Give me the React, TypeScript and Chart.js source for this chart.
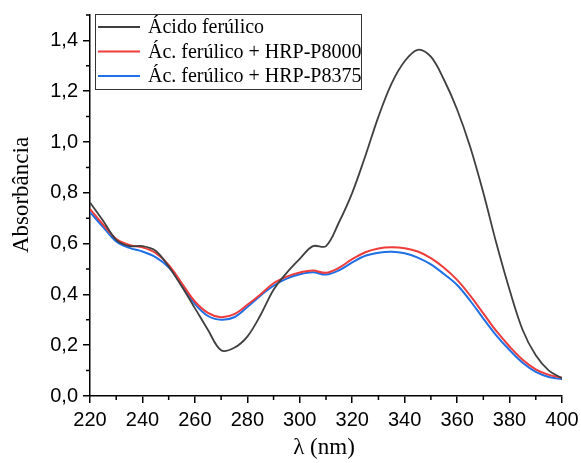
import React, { useEffect, useRef } from 'react';
import { Chart, registerables } from 'chart.js';

Chart.register(...registerables);

const wavelengths = [220, 225, 230, 235, 240, 245, 250, 255, 260, 265, 270, 275, 280, 285, 290, 295, 300, 305, 310, 315, 320, 325, 330, 335, 340, 345, 350, 355, 360, 365, 370, 375, 380, 385, 390, 395, 400];
const acidoFerulico = [0.762, 0.69, 0.615, 0.59, 0.59, 0.572, 0.51, 0.431, 0.346, 0.26, 0.18, 0.19, 0.234, 0.318, 0.418, 0.485, 0.54, 0.59, 0.59, 0.685, 0.80, 0.945, 1.10, 1.23, 1.318, 1.363, 1.336, 1.245, 1.128, 0.98, 0.80, 0.60, 0.418, 0.26, 0.16, 0.10, 0.07];
const hrpP8000 = [0.736, 0.675, 0.618, 0.595, 0.585, 0.563, 0.516, 0.444, 0.372, 0.327, 0.31, 0.322, 0.359, 0.40, 0.444, 0.47, 0.486, 0.494, 0.485, 0.505, 0.539, 0.566, 0.581, 0.586, 0.582, 0.569, 0.543, 0.505, 0.457, 0.395, 0.325, 0.255, 0.195, 0.143, 0.105, 0.083, 0.072];
const hrpP8375 = [0.724, 0.665, 0.608, 0.583, 0.569, 0.547, 0.507, 0.438, 0.363, 0.315, 0.30, 0.31, 0.35, 0.395, 0.434, 0.462, 0.479, 0.487, 0.478, 0.495, 0.526, 0.552, 0.564, 0.568, 0.562, 0.545, 0.518, 0.48, 0.437, 0.375, 0.305, 0.238, 0.181, 0.131, 0.095, 0.075, 0.066];
const seriesLabels = ['Ácido ferúlico', 'Ác. ferúlico + HRP-P8000', 'Ác. ferúlico + HRP-P8375'];
const seriesColors = ['#3f3f3f', '#ee3b3b', '#1f6fe6'];
const xMinorTicks = [230, 250, 270, 290, 310, 330, 350, 370, 390];
const yMinorTicks = [0.1, 0.3, 0.5, 0.7, 0.9, 1.1, 1.3, 1.5];
const xTitle = 'λ (nm)';
const yTitle = 'Absorbância';

const serif = "'Liberation Serif', 'Times New Roman', serif";
const sans = "'Liberation Sans', Arial, sans-serif";

const decorPlugin = {
  id: 'decor',
  afterDraw(chart: any) {
    const ctx = chart.ctx;
    const xs = chart.scales.x;
    const ys = chart.scales.y;
    const area = chart.chartArea;
    ctx.save();
    ctx.strokeStyle = '#000';
    ctx.lineWidth = 1.5;
    ctx.beginPath();
    for (const v of xMinorTicks) {
      const px = xs.getPixelForValue(v);
      ctx.moveTo(px, area.bottom);
      ctx.lineTo(px, area.bottom + 4);
    }
    for (const v of yMinorTicks) {
      const py = ys.getPixelForValue(v);
      ctx.moveTo(area.left, py);
      ctx.lineTo(area.left - 4, py);
    }
    ctx.stroke();

    // axis titles
    ctx.fillStyle = '#000';
    ctx.font = `23px ${serif}`;
    ctx.textAlign = 'center';
    ctx.textBaseline = 'middle';
    ctx.fillText(xTitle, 324, 448);
    ctx.save();
    ctx.translate(22, 195);
    ctx.rotate(-Math.PI / 2);
    ctx.fillText(yTitle, 0, 0);
    ctx.restore();

    // legend
    const bx = 95, by = 14, bw = 266, bh = 75;
    ctx.fillStyle = '#fff';
    ctx.fillRect(bx, by, bw, bh);
    ctx.strokeStyle = '#333';
    ctx.lineWidth = 1;
    ctx.strokeRect(bx + 0.5, by + 0.5, bw, bh);
    ctx.font = `20px ${serif}`;
    ctx.textAlign = 'left';
    ctx.textBaseline = 'middle';
    chart.data.datasets.forEach((ds: any, i: number) => {
      const y = 27 + i * 24.5;
      ctx.strokeStyle = ds.borderColor;
      ctx.lineWidth = 2;
      ctx.beginPath();
      ctx.moveTo(98, y);
      ctx.lineTo(140, y);
      ctx.stroke();
      ctx.fillStyle = '#000';
      ctx.fillText(ds.label, 148, y + 1);
    });
    ctx.restore();
  },
};

export default function App() {
  const ref = useRef<HTMLCanvasElement | null>(null);
  useEffect(() => {
    document.body.style.margin = '0';
    const series = [acidoFerulico, hrpP8000, hrpP8375];
    const chart = new Chart(ref.current as HTMLCanvasElement, {
      type: 'line',
      data: {
        datasets: series.map((arr, i) => ({
          label: seriesLabels[i],
          data: wavelengths.map((x, j) => ({ x, y: arr[j] })),
          borderColor: seriesColors[i],
          borderWidth: i === 0 ? 1.8 : 2,
          pointRadius: 0,
          tension: 0.35,
          fill: false,
        })),
      },
      options: {
        animation: false,
        responsive: false,
        layout: { padding: { top: 15, right: 19, left: 0, bottom: 0 } },
        plugins: { legend: { display: false }, tooltip: { enabled: false } },
        scales: {
          x: {
            type: 'linear',
            min: 220,
            max: 400,
            ticks: { stepSize: 20, color: '#000', font: { family: sans, size: 20 }, padding: 5, maxRotation: 0 },
            grid: { display: true, drawOnChartArea: false, drawTicks: true, tickLength: 7, color: '#000', lineWidth: 1.5 },
            border: { display: true, color: '#000', width: 1.5 },
            afterFit: (s: any) => { s.height = 67; s.paddingLeft = 0; s.paddingRight = 0; },
          },
          y: {
            type: 'linear',
            min: 0,
            max: 1.5,
            ticks: {
              stepSize: 0.2,
              color: '#000',
              font: { family: sans, size: 20 },
              padding: 5,
              callback: (v: any) => Number(v).toFixed(1).replace('.', ','),
            },
            afterBuildTicks: (s: any) => {
              s.ticks = s.ticks.filter((t: any) => Math.abs(t.value * 5 - Math.round(t.value * 5)) < 1e-6);
            },
            grid: { display: true, drawOnChartArea: false, drawTicks: true, tickLength: 7, color: '#000', lineWidth: 1.5 },
            border: { display: true, color: '#000', width: 1.5 },
            afterFit: (s: any) => { s.width = 90; s.paddingTop = 0; s.paddingBottom = 0; },
          },
        },
      },
      plugins: [decorPlugin],
    });
    return () => chart.destroy();
  }, []);
  return <canvas ref={ref} width={581} height={463} style={{ display: 'block' }} />;
}
